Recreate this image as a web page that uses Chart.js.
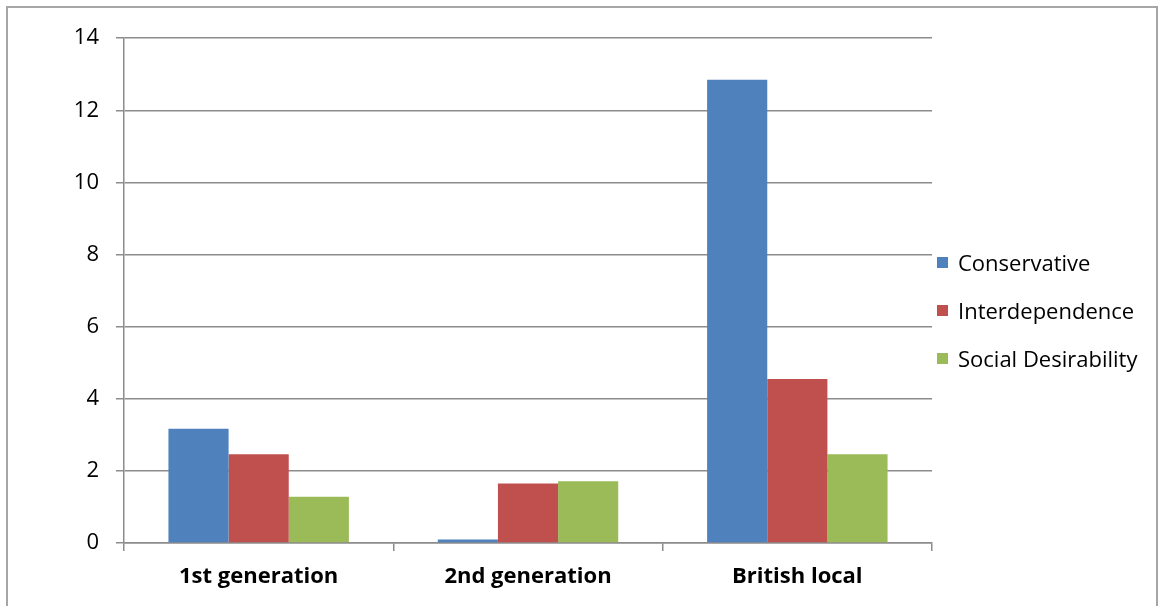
<!DOCTYPE html>
<html>
<head>
<meta charset="utf-8">
<script src="https://cdn.jsdelivr.net/npm/chart.js@4"></script>
<style>
    html, body { margin: 0; padding: 0; background: #fff; }
    #frame {
        position: absolute;
        left: 6px;
        top: 6px;
        width: 1152px;
        height: 610px;
        border: 2px solid #a6a6a6;
        box-sizing: border-box;
    }
    #chart { display: block; }
    #legend {
        position: absolute;
        left: 929px;
        top: 230px;
        font-family: "Open Sans", sans-serif;
        font-size: 22px;
        color: #000;
    }
    .legend-item {
        display: flex;
        align-items: center;
        height: 48px;
        white-space: nowrap;
    }
    .legend-box {
        width: 11px;
        height: 11px;
        margin-right: 10px;
    }
</style>
</head>
<body>
<div id="frame">
    <canvas id="chart" width="1148" height="606"></canvas>
    <div id="legend"></div>
</div>
<script>
// Chart data
const categories = ['1st generation', '2nd generation', 'British local'];
const conservative = [3.17, 0.1, 12.85];
const interdependence = [2.46, 1.65, 4.55];
const socialDesirability = [1.28, 1.71, 2.46];
const yTicks = [0, 2, 4, 6, 8, 10, 12, 14];

const gridGray = '#8c8c8c';
const fontFamily = '"Open Sans", sans-serif';

const ctx = document.getElementById('chart');

const chart = new Chart(ctx, {
    type: 'bar',
    data: {
        labels: categories,
        datasets: [
            { label: 'Conservative', data: conservative, backgroundColor: '#4f81bd' },
            { label: 'Interdependence', data: interdependence, backgroundColor: '#c0504d' },
            { label: 'Social Desirability', data: socialDesirability, backgroundColor: '#9bbb59' }
        ]
    },
    options: {
        responsive: false,
        animation: false,
        layout: {
            padding: { top: 30, left: 0, right: 224, bottom: 0 }
        },
        datasets: {
            bar: {
                categoryPercentage: 0.67,
                barPercentage: 1.0,
                borderWidth: 0
            }
        },
        plugins: {
            tooltip: { enabled: false },
            legend: { display: false }
        },
        scales: {
            x: {
                offset: true,
                grid: {
                    offset: true,
                    drawOnChartArea: false,
                    color: gridGray,
                    lineWidth: 1.5,
                    tickLength: 8
                },
                border: { color: gridGray, width: 1.5 },
                ticks: {
                    color: '#000',
                    padding: 13,
                    font: { family: fontFamily, size: 22, weight: 'bold' }
                },
                afterFit: (scale) => { scale.height = 71; }
            },
            y: {
                min: 0,
                max: 14,
                afterBuildTicks: (scale) => {
                    scale.ticks = yTicks.map(v => ({ value: v }));
                },
                grid: {
                    color: gridGray,
                    lineWidth: 1.5,
                    tickLength: 8
                },
                border: { color: gridGray, width: 1.5 },
                ticks: {
                    color: '#000',
                    padding: 17,
                    font: { family: fontFamily, size: 22 }
                },
                afterFit: (scale) => { scale.width = 116; }
            }
        }
    }
});

// Legend on the right, built from the chart's datasets
const legendEl = document.getElementById('legend');
legendEl.innerHTML = chart.data.datasets.map(ds => `
    <div class="legend-item">
        <span class="legend-box" style="background:${ds.backgroundColor}"></span>
        <span>${ds.label}</span>
    </div>
`).join('');
</script>
</body>
</html>
